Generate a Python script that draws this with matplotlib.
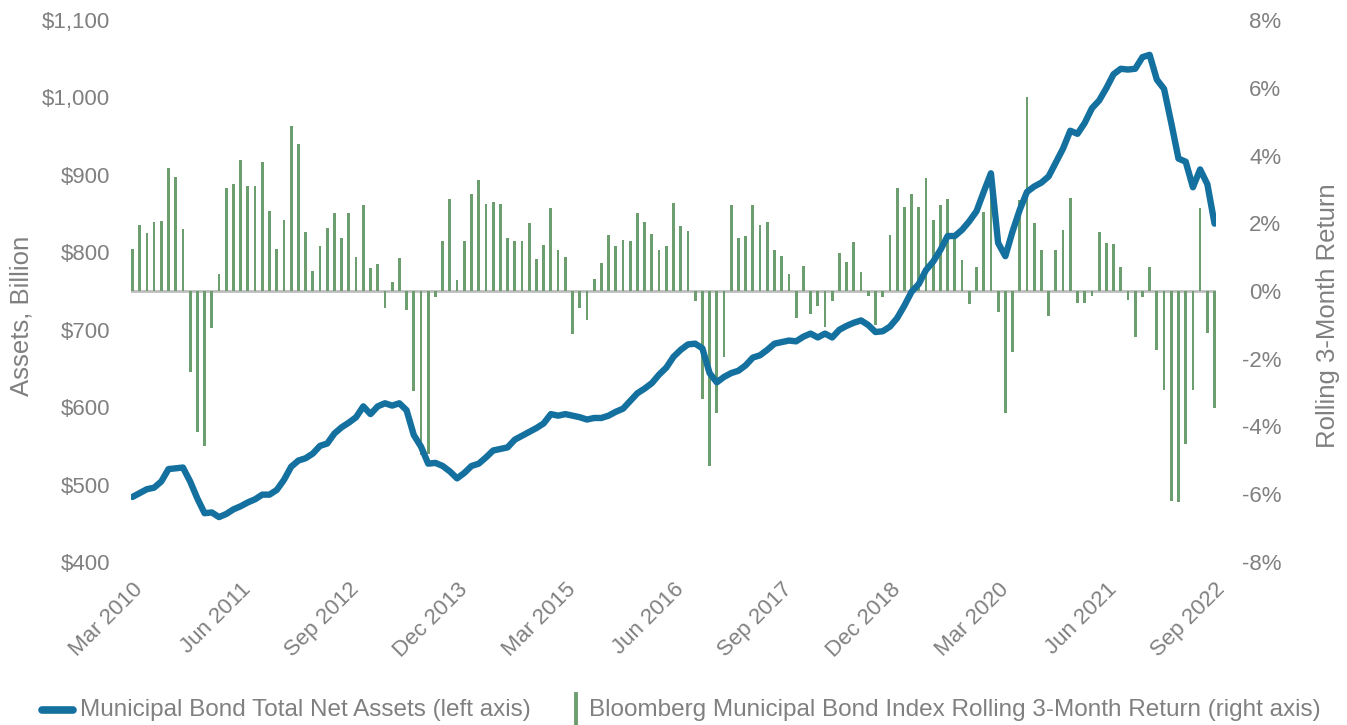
import matplotlib
matplotlib.use("Agg")
import matplotlib.pyplot as plt
from matplotlib.lines import Line2D
import numpy as np

# monthly, Mar 2010 .. Sep 2022
tick_labels = ["Mar 2010", "Jun 2011", "Sep 2012", "Dec 2013", "Mar 2015", "Jun 2016",
               "Sep 2017", "Dec 2018", "Mar 2020", "Jun 2021", "Sep 2022"]

# total net assets, $ billion
assets = [484, 489, 494, 496, 504, 520, 521, 522, 504, 482, 463, 464, 458, 462, 468, 472,
          477, 481, 487, 487, 493, 506, 523, 531, 534, 540, 550, 553, 566, 574, 580, 587,
          601, 591, 601, 605, 602, 605, 596, 564, 549, 527, 528, 524, 517, 508, 515, 524,
          527, 535, 544, 546, 548, 558, 563, 568, 573, 579, 591, 589, 591, 589, 587, 584,
          586, 586, 589, 594, 598, 608, 618, 624, 631, 642, 651, 665, 674, 681, 682, 676,
          644, 632, 639, 644, 647, 654, 664, 667, 674, 682, 684, 686, 685, 691, 695, 690,
          695, 690, 700, 705, 709, 712, 706, 697, 698, 704, 715, 731, 749, 759, 777, 788,
          803, 821, 821, 829, 840, 853, 878, 902, 812, 795, 827, 855, 878, 885, 890, 898,
          916, 934, 957, 953, 967, 986, 996, 1012, 1030, 1037, 1036, 1037, 1052, 1055, 1023,
          1011, 967, 921, 917, 884, 907, 888, 837]

# rolling 3-month return, %
returns = [1.24, 1.95, 1.71, 2.03, 2.06, 3.62, 3.38, 1.83, -2.40, -4.15, -4.58, -1.10,
           0.49, 3.05, 3.17, 3.87, 3.09, 3.09, 3.80, 2.36, 1.24, 2.10, 4.86, 4.35,
           1.73, 0.59, 1.32, 1.87, 2.30, 1.57, 2.30, 1.00, 2.54, 0.67, 0.81, -0.51,
           0.28, 0.96, -0.55, -2.95, -4.84, -4.80, -0.18, 1.47, 2.73, 0.31, 1.47, 2.87,
           3.28, 2.56, 2.63, 2.58, 1.55, 1.47, 1.47, 2.01, 0.94, 1.36, 2.46, 1.22,
           1.00, -1.26, -0.49, -0.87, 0.35, 0.83, 1.65, 1.32, 1.51, 1.49, 2.30, 2.04,
           1.67, 1.20, 1.32, 2.60, 1.91, 1.77, -0.29, -3.20, -5.17, -3.60, -1.95, 2.54,
           1.57, 1.63, 2.54, 1.95, 2.03, 1.20, 1.04, 0.49, -0.81, 0.73, -0.69, -0.45,
           -1.06, -0.29, 1.12, 0.85, 1.46, 0.55, -0.16, -1.00, -0.18, 1.65, 3.05, 2.48,
           2.87, 2.48, 3.34, 2.10, 2.54, 2.73, 1.55, 0.92, -0.39, 0.71, 2.34, 3.40,
           -0.63, -3.60, -1.80, 2.68, 5.73, 2.01, 1.21, -0.74, 1.21, 1.80, 2.74, -0.36,
           -0.34, -0.15, 1.74, 1.41, 1.39, 0.72, -0.27, -1.37, -0.17, 0.70, -1.74, -2.92,
           -6.19, -6.22, -4.51, -2.92, 2.45, -1.25, -3.45]

blue = "#14709e"
green = "#6d9e6f"
grey = "#808080"
W, H = 1347, 725

plt.rcParams["font.family"] = ["Liberation Sans", "DejaVu Sans"]

x = np.arange(len(assets))
fig = plt.figure(figsize=(W / 100, H / 100), dpi=100)
ax = fig.add_axes([131 / W, 1 - 562 / H, (1216 - 131) / W, (562 - 20) / H])
ax2 = ax.twinx()

ax2.axhline(0, color="#bdbdbd", lw=2, zorder=1)
ax2.bar(x, returns, width=0.38, color=green, zorder=2)
ax.plot(x, assets, color=blue, lw=4.6, solid_capstyle="round", solid_joinstyle="round")

ax.set_zorder(ax2.get_zorder() + 1)
ax.patch.set_visible(False)

ax.set_xlim(-0.2, len(assets) - 0.8)
ax.set_ylim(400, 1100)
ax.set_yticks(np.arange(400, 1101, 100))
ax.set_yticklabels([f"${v:,}" for v in range(400, 1101, 100)])
ax2.set_ylim(-8, 8)
ax2.set_yticks(np.arange(-8, 9, 2))
ax2.set_yticklabels([f"{v}%" for v in range(-8, 9, 2)])

ax.set_xticks(np.arange(0, len(assets), 15))
ax.set_xticklabels(tick_labels, rotation=45, ha="right", rotation_mode="anchor")

for a in (ax, ax2):
    for s in a.spines.values():
        s.set_visible(False)
    a.tick_params(length=0, labelsize=16, labelcolor=grey)
ax.tick_params(axis="y", pad=15)
ax.tick_params(axis="x", pad=12)
ax2.tick_params(axis="y", pad=47)
for lbl in ax2.get_yticklabels():
    lbl.set_ha("right")

ax.set_ylabel("Assets, Billion", fontsize=18.5, color=grey)
ax.yaxis.set_label_coords(-0.09, 0.455)
ax2.set_ylabel("Rolling 3-Month Return", fontsize=18.5, color=grey)
ax2.yaxis.set_label_coords(1.092, 0.455)

# legend, drawn by hand so the handles sit where they do in the original
ly = 1 - 710 / H
fig.add_artist(Line2D([42 / W, 73 / W], [ly, ly], color=blue, lw=5.5,
                      solid_capstyle="round"))
fig.text(80 / W, ly, "Municipal Bond Total Net Assets (left axis)", fontsize=17.5,
         color=grey, va="center")
fig.add_artist(Line2D([576 / W, 576 / W], [1 - 694 / H, 1 - 725 / H], color=green, lw=2.8))
fig.text(589 / W, ly, "Bloomberg Municipal Bond Index Rolling 3-Month Return (right axis)",
         fontsize=17.5, color=grey, va="center")

fig.savefig("out.png", dpi=100)
